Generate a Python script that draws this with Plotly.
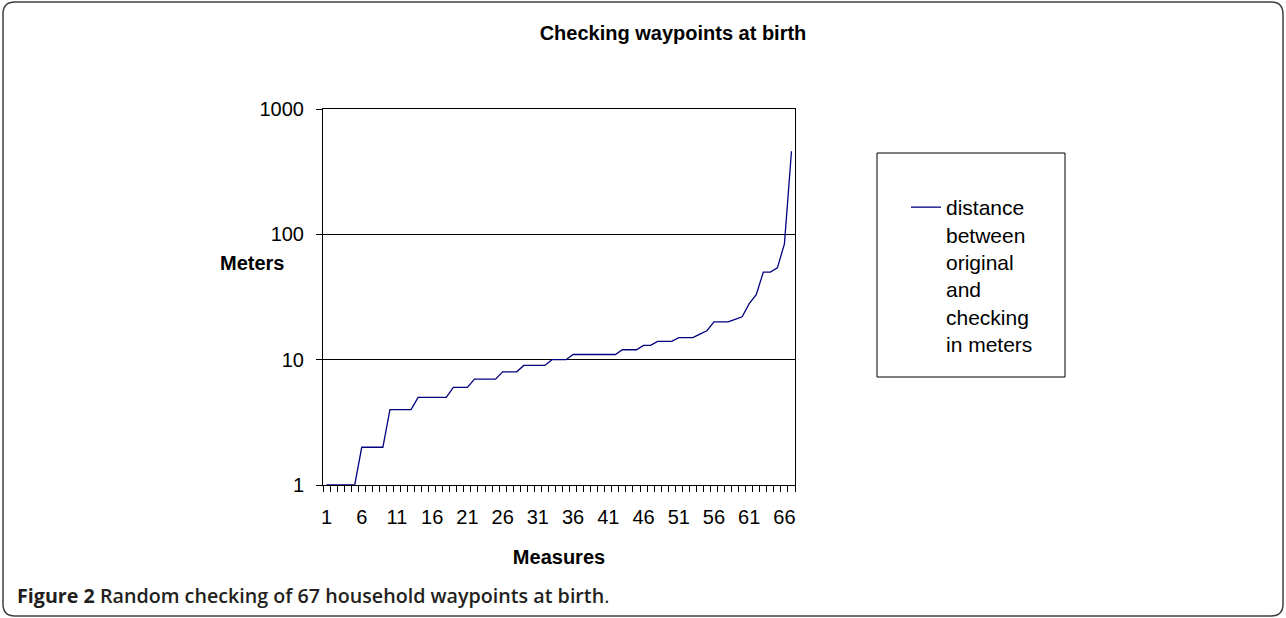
import plotly.graph_objects as go

# Data
measures = list(range(1, 68))
meters = ([1] * 5 + [2] * 4 + [4] * 4 + [5] * 5 + [6] * 3 + [7] * 4 + [8] * 3 + [9] * 4 +
          [10] * 3 + [11] * 7 + [12] * 3 + [13] * 2 + [14] * 3 + [15] * 3 + [16, 17] +
          [20] * 3 + [21, 22, 28, 33, 50, 50, 54, 84, 460])
x_tick_vals = list(range(1, 67, 5))
x_tick_text = [str(v) for v in x_tick_vals]
y_tick_vals = [1, 10, 100, 1000]
y_tick_text = ["1", "10", "100", "1000"]
series_name = "distance<br>between<br>original<br>and<br>checking<br>in meters"
chart_title = "Checking waypoints at birth"
caption_bold = "Figure 2"
caption_rest = "Random checking of 67 household waypoints at birth"

W, H = 1286, 618
L, R, T, B = 323, 795, 109, 485  # plot area in pixels


def px(x):
    return (x - L) / (R - L)


def py(y):
    return (B - y) / (B - T)


FONT = "Liberation Sans, Arial, sans-serif"

fig = go.Figure()
fig.add_trace(go.Scatter(
    x=measures, y=meters, mode="lines", name=series_name,
    line=dict(color="#000080", width=1.3),
))

fig.update_layout(
    width=W, height=H,
    margin=dict(l=L, r=W - R, t=T, b=H - B, pad=0),
    paper_bgcolor="white", plot_bgcolor="white",
    font=dict(family=FONT, size=20, color="black"),
    showlegend=True,
    legend=dict(
        x=px(906), y=py(187), xanchor="left", yanchor="top",
        bgcolor="rgba(0,0,0,0)", borderwidth=0, valign="top",
        font=dict(family=FONT, size=21, color="black"),
    ),
    title=dict(text="<b>" + chart_title + "</b>", x=673 / W, xanchor="center",
               y=1 - 33 / H, yanchor="middle",
               font=dict(family=FONT, size=20, color="black")),
)

fig.update_xaxes(
    range=[0.5, 67.5], tickmode="array", tickvals=x_tick_vals, ticktext=x_tick_text,
    ticks="", showgrid=False, zeroline=False,
    showline=True, linecolor="black", linewidth=1, mirror=True,
    minor=dict(ticks="outside", tick0=0.5, dtick=1, ticklen=6, tickcolor="black",
               tickwidth=1, showgrid=False),
    ticklabelstandoff=14,
    title=dict(text="<b>Measures</b>", standoff=22,
               font=dict(family=FONT, size=20, color="black")),
)
fig.update_yaxes(
    type="log", range=[0, 3], tickmode="array", tickvals=y_tick_vals, ticktext=y_tick_text,
    ticks="outside", ticklen=6, tickcolor="black",
    showgrid=True, gridcolor="black", gridwidth=1, zeroline=False,
    showline=True, linecolor="black", linewidth=1, mirror=True,
    ticklabelstandoff=8,
)

# y-axis label (horizontal, like the reference)
fig.add_annotation(text="<b>Meters</b>", xref="paper", yref="paper",
                   x=px(252), y=py(263), xanchor="center", yanchor="middle",
                   showarrow=False, font=dict(family=FONT, size=20, color="black"))

# legend frame
fig.add_shape(type="rect", xref="paper", yref="paper",
              x0=px(877), x1=px(1065), y0=py(153), y1=py(377),
              line=dict(color="black", width=1), fillcolor="rgba(0,0,0,0)")

# caption
fig.add_annotation(text="<b>" + caption_bold + "</b> " + caption_rest + "<span style='font-weight:400'>.</span>",
                   xref="paper", yref="paper", x=px(15), y=py(595),
                   xanchor="left", yanchor="middle", showarrow=False,
                   font=dict(family="Open Sans, sans-serif", size=19.7, color="#231f20", weight=600))

# rounded outer frame
x0, x1, y0, y1, r = 3, 1283, 2, 616, 12
path = (f"M {px(x0 + r)},{py(y0)} L {px(x1 - r)},{py(y0)} Q {px(x1)},{py(y0)} {px(x1)},{py(y0 + r)} "
        f"L {px(x1)},{py(y1 - r)} Q {px(x1)},{py(y1)} {px(x1 - r)},{py(y1)} "
        f"L {px(x0 + r)},{py(y1)} Q {px(x0)},{py(y1)} {px(x0)},{py(y1 - r)} "
        f"L {px(x0)},{py(y0 + r)} Q {px(x0)},{py(y0)} {px(x0 + r)},{py(y0)} Z")
fig.add_shape(type="path", xref="paper", yref="paper", path=path,
              line=dict(color="#404040", width=1.5), fillcolor="rgba(0,0,0,0)")

fig.write_html("out.html", config={"displayModeBar": False},
               post_script="document.body.style.margin='0';document.body.style.overflow='hidden';")
